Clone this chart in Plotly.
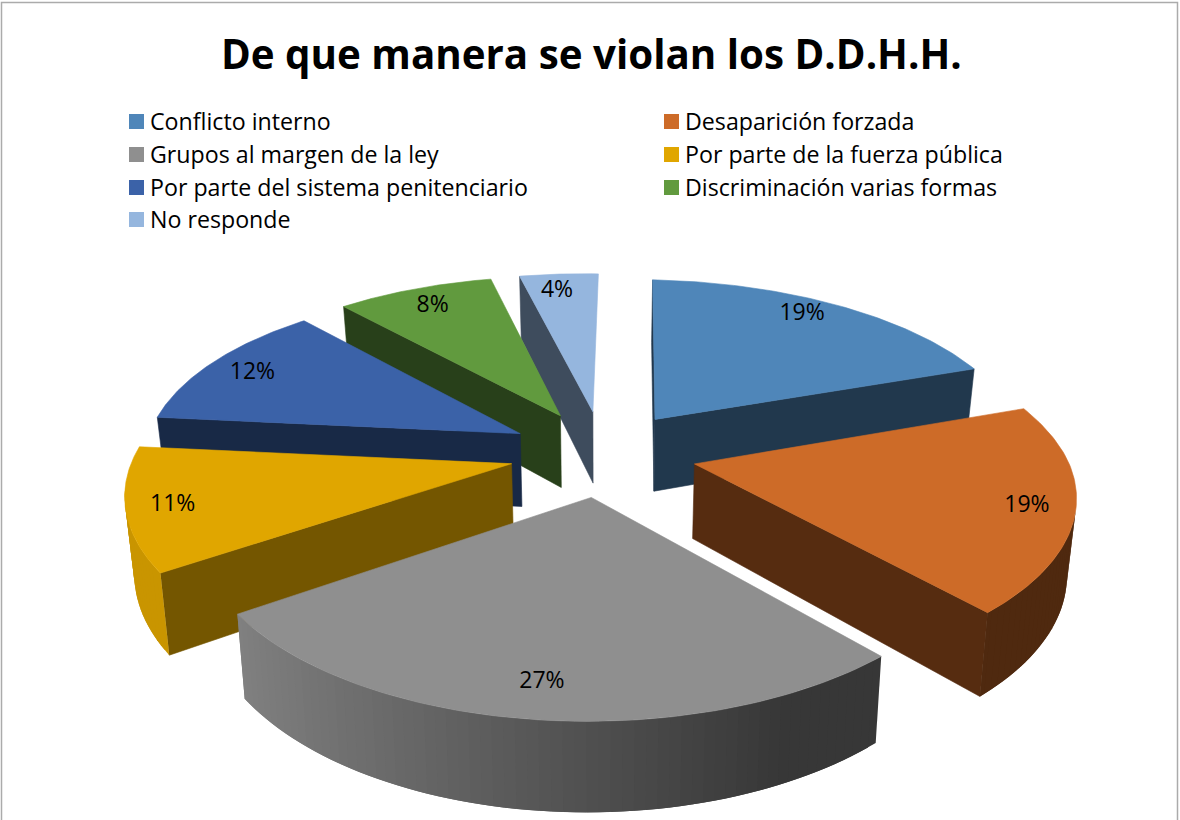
"""Torta 3D separada: De que manera se violan los D.D.H.H."""

import numpy as np
import plotly.graph_objects as go

# ── Datos ──────────────────────────────────────────────────────────────────────
CATEGORIAS = [
    "Conflicto interno",
    "Desaparición forzada",
    "Grupos al margen de la ley",
    "Por parte de la fuerza pública",
    "Por parte del sistema penitenciario",
    "Discriminación varias formas",
    "No responde",
]
VALORES = [19, 19, 27, 11, 12, 8, 4]
COLORES = ["#4F86B9", "#CD6B28", "#8F8F8F", "#E0A600", "#3B62A8", "#619A3E", "#95B6DE"]
TITULO = "De que manera se violan los D.D.H.H."

# ── Proyección (coordenadas de pantalla en px) ─────────────────────────────────
CX, CY = 603, 453
ESC_X, ESC_Y = 374, 172
PERSP_X, PERSP_Y = 0.15, 0.16
SESGO_FRENTE, SESGO_FONDO = 10, 5   # la vista no está centrada
GIRO = 6                            # el lado derecho baja un poco
EXPLOSION = 0.25
GROSOR = 74
CONV_BASE = 0.98
CAMARA_U = -0.05
FONT = "Open Sans"


def proyectar(u, v, base=False):
    u = np.asarray(u, dtype=float)
    v = np.asarray(v, dtype=float)
    s = 1 / (1 + PERSP_X * v)
    sesgo = np.where(v < 0, SESGO_FRENTE, SESGO_FONDO)
    x = CX + ESC_X * u * s + sesgo * v * s
    y = CY - ESC_Y * v / (1 + PERSP_Y * v) + GIRO * u
    if base:
        x = CX + (x - CX) * CONV_BASE
        y = y + GROSOR * s
    return x, y


def oscurecer(color, f):
    r, g, b = (int(color[i:i + 2], 16) for i in (1, 3, 5))
    return f"rgb({int(r * f)},{int(g * f)},{int(b * f)})"


def poligono(fig, x, y, color, borde=0.6):
    fig.add_trace(go.Scatter(
        x=list(x) + [x[0]], y=list(y) + [y[0]], mode="lines", fill="toself", fillcolor=color,
        line=dict(color=color, width=borde), hoverinfo="skip", showlegend=False,
    ))


def cara(fig, u, v, color, borde=0.6):
    """Cara vertical entre puntos de la planta."""
    x1, y1 = proyectar(u, v)
    x2, y2 = proyectar(u, v, base=True)
    poligono(fig, np.r_[x1, x2[::-1]], np.r_[y1, y2[::-1]], color, borde)


fig = go.Figure()

limites = np.cumsum([0] + VALORES) / sum(VALORES) * 2 * np.pi
medios = (limites[:-1] + limites[1:]) / 2
camara_v = -1 / PERSP_X

# de atrás hacia adelante
orden = sorted(range(len(VALORES)), key=lambda i: -np.cos(medios[i]))
for i in orden:
    color = COLORES[i]
    a0, a1 = limites[i], limites[i + 1]
    ou, ov = EXPLOSION * np.sin(medios[i]), EXPLOSION * np.cos(medios[i])
    corte = 0.52 if i == 3 else 0.42

    # cortes radiales visibles
    for ang, signo in ((a0, -1), (a1, 1)):
        nu, nv = signo * np.cos(ang), -signo * np.sin(ang)
        if nu * (CAMARA_U - ou) + nv * (camara_v - ov) > 0:
            cara(fig, np.array([ou, ou + np.sin(ang)]), np.array([ov, ov + np.cos(ang)]),
                 oscurecer(color, corte))

    # pared exterior en tiras solapadas, con degradado
    paso = np.radians(1.5)
    angs = np.arange(a0, a1, paso)
    for t0 in angs:
        t1 = min(t0 + paso * 2, a1)
        tm = t0 + paso / 2
        pu, pv = ou + np.sin(tm), ov + np.cos(tm)
        if np.sin(tm) * (CAMARA_U - pu) + np.cos(tm) * (camara_v - pv) <= 0:
            continue
        f = float(np.interp(np.sin(tm), [-0.81, 0.45], [0.9, 0.39]))
        tt = np.linspace(t0, t1, 4)
        cara(fig, ou + np.sin(tt), ov + np.cos(tt), oscurecer(color, f), borde=0)

    # cara superior
    arco = np.linspace(a0, a1, 80)
    x, y = proyectar(np.r_[ou, ou + np.sin(arco)], np.r_[ov, ov + np.cos(arco)])
    poligono(fig, x, y, color)

# etiquetas de porcentaje
FR_ETIQUETA = 0.86
ETIQUETA_DX = [-10, 6, -1, -9, -2, 0, -6]
ETIQUETA_DY = [-5, 3, -1, 3, 2, 1, 0]
xe, ye = proyectar((EXPLOSION + FR_ETIQUETA) * np.sin(medios),
                   (EXPLOSION + FR_ETIQUETA) * np.cos(medios))
fig.add_trace(go.Scatter(
    x=xe + np.array(ETIQUETA_DX), y=ye + np.array(ETIQUETA_DY), mode="text",
    text=[f"{v}%" for v in VALORES], textposition="middle center",
    textfont=dict(family=FONT, size=23, color="#000000"),
    hoverinfo="skip", showlegend=False,
))

# leyenda en dos columnas
COL_X = [129, 664]
FILA_Y = [121, 154, 187, 219]
formas = []
for k, (cat, col) in enumerate(zip(CATEGORIAS, COLORES)):
    x0 = COL_X[k % 2]
    y0 = FILA_Y[k // 2]
    formas.append(dict(type="rect", x0=x0, x1=x0 + 15, y0=y0 - 7, y1=y0 + 8,
                       fillcolor=col, line=dict(width=0), layer="above"))
    fig.add_annotation(x=x0 + 19, y=y0, text=cat, showarrow=False, xanchor="left", yanchor="middle",
                       font=dict(family=FONT, size=23.2, color="#000000"))

# borde del gráfico
formas.append(dict(type="path", path="M 1.5 820 L 1.5 2.5 L 1177.5 2.5 L 1177.5 820",
                   line=dict(color="#ABABAB", width=1.5)))

fig.add_annotation(x=591, y=53, text=f"<b>{TITULO}</b>", showarrow=False,
                   xanchor="center", yanchor="middle",
                   font=dict(family=FONT, size=40.3, color="#000000"))

fig.update_layout(
    width=1180, height=820,
    margin=dict(t=0, b=0, l=0, r=0),
    paper_bgcolor="#FFFFFF", plot_bgcolor="#FFFFFF",
    shapes=formas, showlegend=False,
    xaxis=dict(range=[0, 1180], visible=False, fixedrange=True),
    yaxis=dict(range=[820, 0], visible=False, fixedrange=True),
)
fig.write_html("out.html", config=dict(displayModeBar=False),
               post_script="document.body.style.margin='0';")
